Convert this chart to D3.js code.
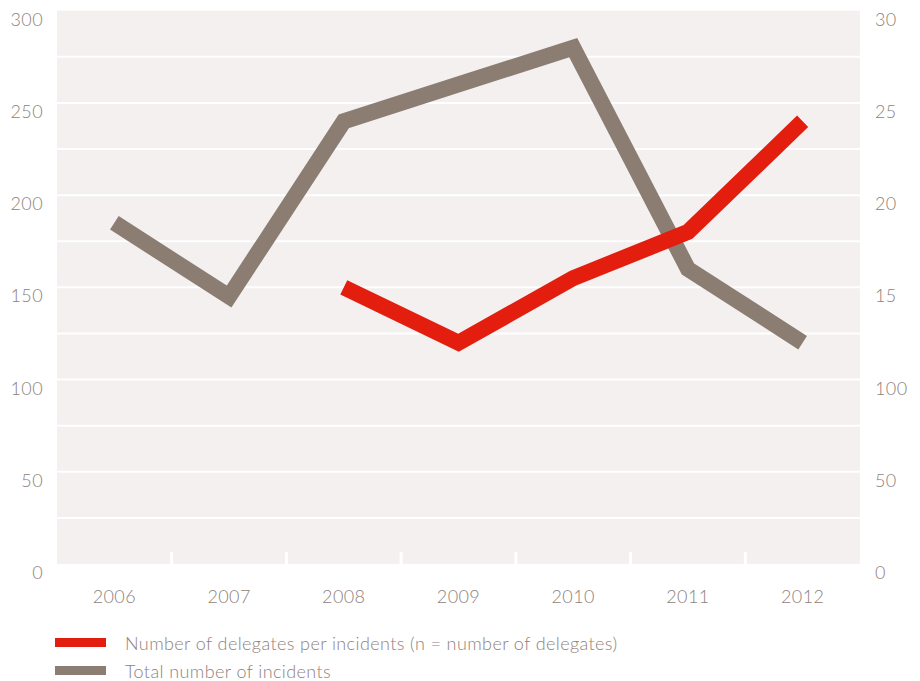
<!DOCTYPE html>
<html>
<head>
<meta charset="utf-8">
<script src="https://cdn.jsdelivr.net/npm/d3@7"></script>
<style>
  body { margin: 0; background: #fff; }
  svg text { font-family: Lato, "Open Sans", sans-serif; font-weight: 300; fill: #8e827b; letter-spacing: 0.4px; }
</style>
</head>
<body>
<div id="chart"></div>
<script>
// chart data
var years = ["2006", "2007", "2008", "2009", "2010", "2011", "2012"];
var delegates = [null, null, 150, 120, 155, 180, 240];      // left axis
var incidents = [18.5, 14.5, 24, 26, 28, 16, 12];          // right axis
var leftTicks = [0, 50, 100, 150, 200, 250, 300];
var rightTicks = [0, 5, 10, 15, 20, 25, 30];
var rightTickLabels = ["0", "50", "100", "15", "20", "25", "30"];
var legendLabels = ["Number of delegates per incidents (n = number of delegates)", "Total number of incidents"];

var width = 920, height = 681;
var pLeft = 57, pRight = 860, pTop = 10.7, pBottom = 564;

var svg = d3.select("#chart").append("svg")
  .attr("width", width)
  .attr("height", height);

var x = d3.scaleBand().domain(years).range([pLeft, pRight]);
var yL = d3.scaleLinear().domain([0, 300]).range([pBottom, pTop]);
var yR = d3.scaleLinear().domain([0, 30]).range([pBottom, pTop]);

// panel
svg.append("rect")
  .attr("x", pLeft).attr("y", pTop)
  .attr("width", pRight - pLeft).attr("height", pBottom - pTop)
  .attr("fill", "#f3f0ef");

// white gridlines every 25
svg.append("g").selectAll("line")
  .data(d3.range(25, 300, 25))
  .join("line")
  .attr("x1", pLeft).attr("x2", pRight)
  .attr("y1", function(d) { return yL(d); })
  .attr("y2", function(d) { return yL(d); })
  .attr("stroke", "#fff")
  .attr("stroke-width", 2);

// white tick marks between years
svg.append("g").selectAll("line")
  .data(years.slice(1))
  .join("line")
  .attr("x1", function(d) { return x(d); })
  .attr("x2", function(d) { return x(d); })
  .attr("y1", pBottom - 12).attr("y2", pBottom)
  .attr("stroke", "#fff")
  .attr("stroke-width", 3);

// axes labels
var axL = svg.append("g")
  .attr("transform", "translate(" + (pLeft - 14) + ",0)")
  .call(d3.axisLeft(yL).tickValues(leftTicks).tickSize(0).tickPadding(0));
var axR = svg.append("g")
  .attr("transform", "translate(" + (pRight + 15) + ",0)")
  .call(d3.axisRight(yR).tickValues(rightTicks).tickSize(0).tickPadding(0)
    .tickFormat(function(d, i) { return rightTickLabels[i]; }));
var axB = svg.append("g")
  .attr("transform", "translate(0," + pBottom + ")")
  .call(d3.axisBottom(x).tickSize(0).tickPadding(0));

[axL, axR, axB].forEach(function(a) {
  a.select(".domain").remove();
  a.selectAll("text")
    .attr("font-size", 18)
    .attr("font-family", null)
    .attr("fill", null);
});
axL.selectAll("text").attr("dy", 0).attr("y", 14.5);
axR.selectAll("text").attr("dy", 0).attr("y", 14.5);
axB.selectAll("text").attr("dy", 0).attr("y", 39);

// lines
var lineL = d3.line()
  .defined(function(d) { return d != null; })
  .x(function(d, i) { return x(years[i]) + x.bandwidth() / 2; })
  .y(function(d) { return yL(d); });
var lineR = d3.line()
  .x(function(d, i) { return x(years[i]) + x.bandwidth() / 2; })
  .y(function(d) { return yR(d); });

svg.append("path")
  .datum(incidents)
  .attr("d", lineR)
  .attr("fill", "none")
  .attr("stroke", "#8c7d72")
  .attr("stroke-width", 16)
  .attr("stroke-linejoin", "miter");

svg.append("path")
  .datum(delegates)
  .attr("d", lineL)
  .attr("fill", "none")
  .attr("stroke", "#e31e0e")
  .attr("stroke-width", 16)
  .attr("stroke-linejoin", "miter");

// legend
var legendColors = ["#e31e0e", "#8c7d72"];
var lg = svg.append("g").selectAll("g")
  .data(legendLabels)
  .join("g")
  .attr("transform", function(d, i) { return "translate(55," + (638 + i * 28) + ")"; });
lg.append("rect")
  .attr("width", 51).attr("height", 9)
  .attr("fill", function(d, i) { return legendColors[i]; });
lg.append("text")
  .attr("x", 70).attr("y", 11.5)
  .attr("font-size", 18)
  .text(function(d) { return d; });
</script>
</body>
</html>
